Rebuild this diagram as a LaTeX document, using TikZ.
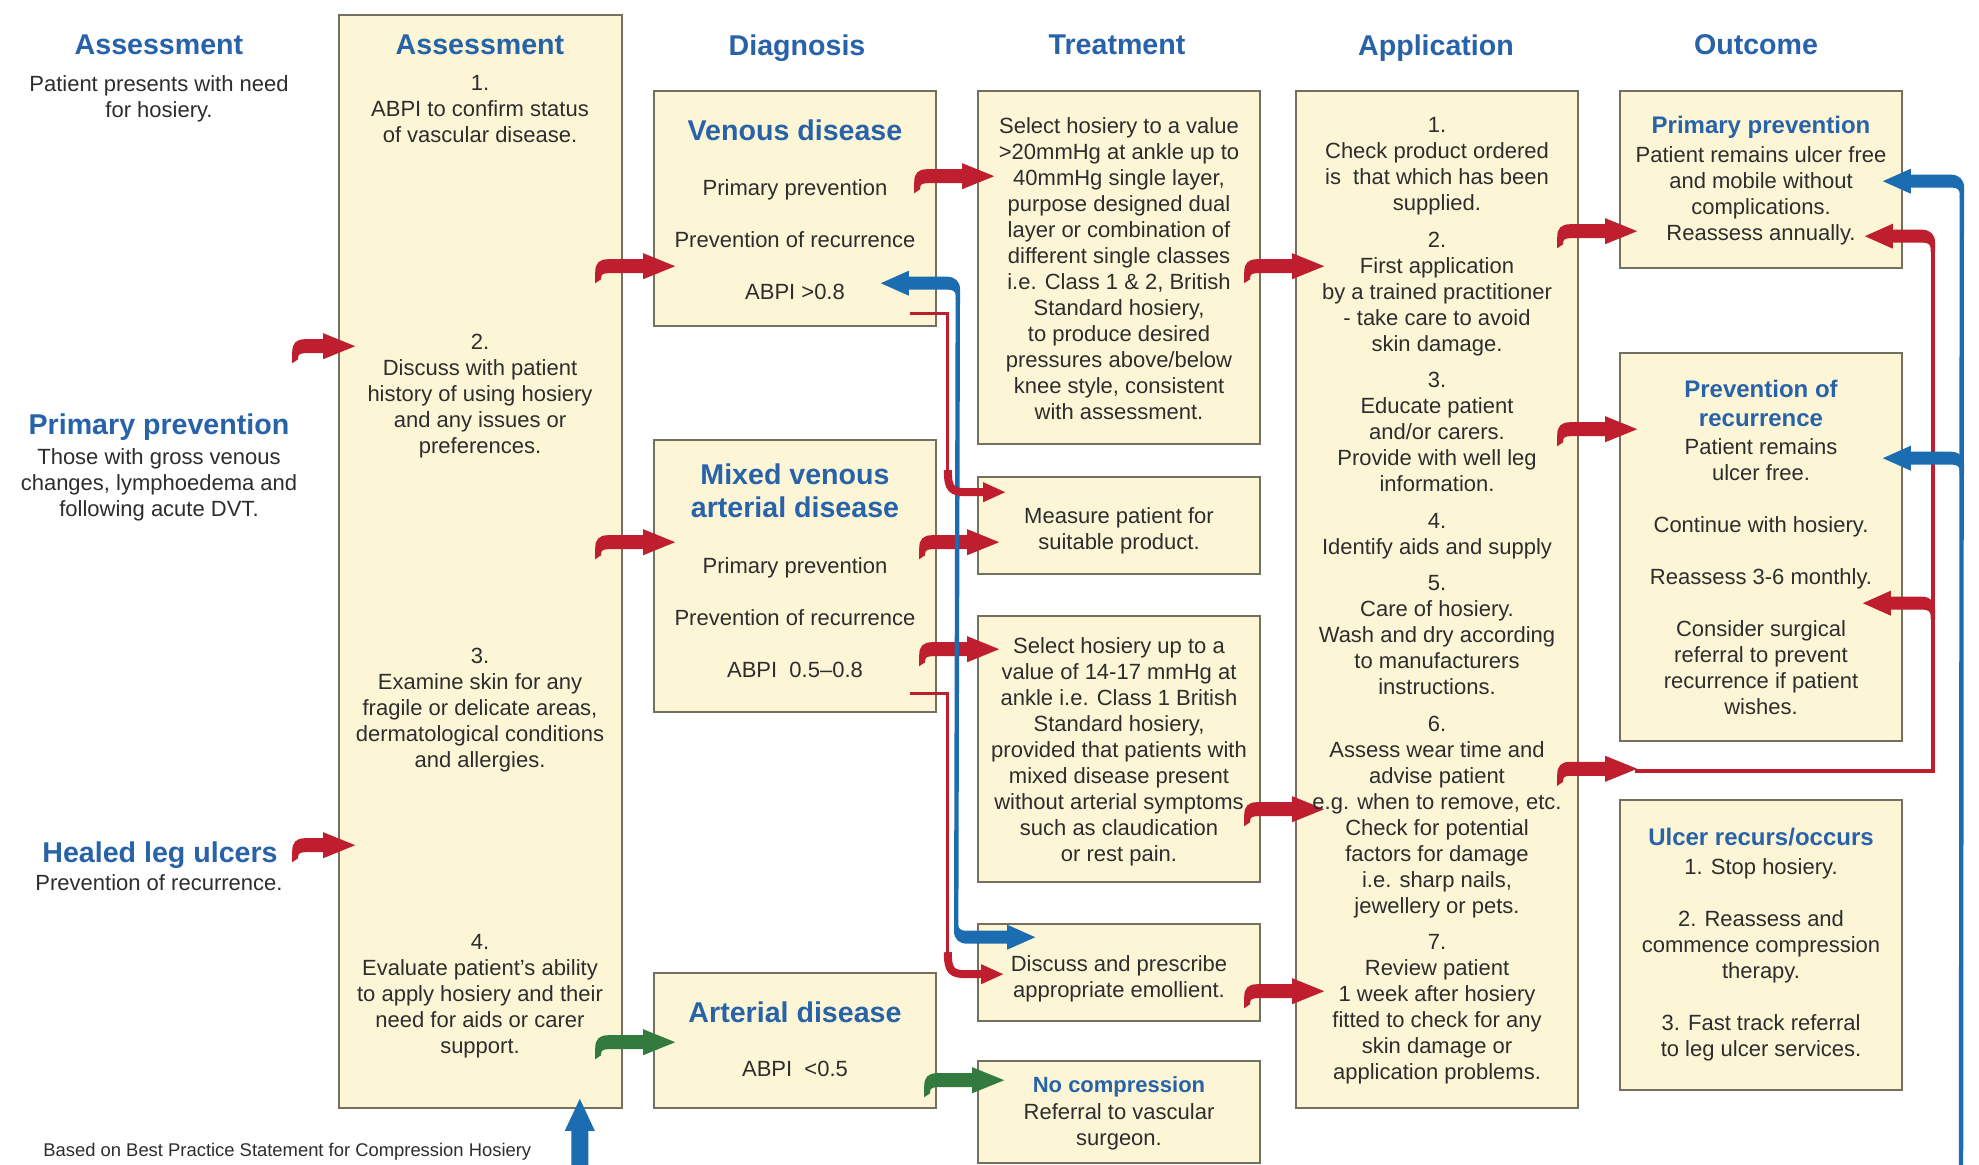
\documentclass[tikz,border=0pt]{standalone}
\usepackage{fontspec}
\setmainfont{Liberation Sans}
\usetikzlibrary{fit,calc}
\definecolor{cream}{RGB}{252,246,214}
\definecolor{boxline}{RGB}{115,112,95}
\definecolor{hblue}{RGB}{40,98,168}
\definecolor{txtgray}{RGB}{45,45,45}
\definecolor{arrred}{RGB}{190,30,45}
\definecolor{arrgreen}{RGB}{50,122,62}
\definecolor{arrblue}{RGB}{28,108,178}
\tikzset{
 box/.style={draw=boxline, fill=cream, line width=0.8pt, inner sep=0pt},
 body/.style={font=\fontsize{11}{13}\selectfont, text=txtgray, align=center, inner sep=0pt, anchor=north},
 head/.style={font=\bfseries\fontsize{14.3}{16.5}\selectfont, text=hblue, align=center, inner sep=0pt, anchor=north},
 subhead/.style={font=\bfseries\fontsize{12}{14.5}\selectfont, text=hblue, align=center, inner sep=0pt, anchor=north},
 hookR/.pic={\fill (0,0) -- (-32,-13) -- (-32,-7) -- ({-#1+13},-7) .. controls ({-#1+4},-7) and (-#1,-3) .. (-#1,6) -- (-#1,17) -- ({-#1+6},13) -- ({-#1+6},11) .. controls ({-#1+6},8) and ({-#1+9},7) .. ({-#1+13},7) -- (-32,7) -- (-32,13) -- cycle;},
 hookL/.pic={\fill (0,0) -- (28,-12.5) -- (28,-6.5) -- ({#1-11},-6.5) .. controls ({#1-3},-6.5) and ({#1+2.2},-2) .. ({#1+2.2},6) -- ({#1+2.2},16) -- ({#1-2.2},16) -- ({#1-2.2},12) .. controls ({#1-2.2},8.5) and ({#1-5},6.5) .. ({#1-9},6.5) -- (28,6.5) -- (28,12.5) -- cycle;},
 smallhead/.pic={\fill (0,0) -- (-22,-10) -- (-22,10) -- cycle;},
}
\begin{document}
\begin{tikzpicture}[x=0.5pt,y=-0.5pt]
\useasboundingbox (0,0) rectangle (1979,1165);
\fill[white] (0,0) rectangle (1979,1165);

% ---------- boxes ----------
\node[box, fit={(339,15) (622,1108)}] (assess) {};
\node[box, fit={(654,91) (936,326)}] (venous) {};
\node[box, fit={(654,440) (936,712)}] (mixed) {};
\node[box, fit={(654,973) (936,1108)}] (arterial) {};
\node[box, fit={(978,91) (1260,444)}] (treat) {};
\node[box, fit={(978,477) (1260,574)}] (measure) {};
\node[box, fit={(978,616) (1260,882)}] (select) {};
\node[box, fit={(978,924) (1260,1021)}] (discuss) {};
\node[box, fit={(978,1061) (1260,1163)}] (nocomp) {};
\node[box, fit={(1296,91) (1578,1108)}] (app) {};
\node[box, fit={(1620,91) (1902,268)}] (outPrim) {};
\node[box, fit={(1620,353) (1902,741)}] (outRec) {};
\node[box, fit={(1620,800) (1902,1090)}] (outUlc) {};

% ---------- hook arrows ----------
\pic[arrred] at ($(assess.north west)+(17,332)$) {hookR=63};
\pic[arrred] at ($(assess.north west)+(17,831)$) {hookR=63};
\pic[arrred] at ($(venous.north west)+(22,176)$) {hookR=80};
\pic[arrred] at ($(mixed.north west)+(22,103)$) {hookR=80};
\pic[arrgreen] at ($(arterial.north west)+(22,70)$) {hookR=80};
\pic[arrred] at ($(treat.north west)+(17,86)$) {hookR=80};
\pic[arrred] at ($(measure.north west)+(22,66)$) {hookR=80};
\pic[arrred] at ($(select.north west)+(22,34)$) {hookR=80};
\pic[arrgreen] at ($(nocomp.north west)+(27,20)$) {hookR=80};
\pic[arrred] at ($(app.north west)+(29,176)$) {hookR=80};
\pic[arrred] at ($(app.north west)+(29,719)$) {hookR=80};
\pic[arrred] at ($(app.north west)+(29,901)$) {hookR=80};
\pic[arrred] at ($(outPrim.north west)+(18,141)$) {hookR=80};
\pic[arrred] at ($(outRec.north west)+(18,77)$) {hookR=80};
\coordinate (a15) at ($(outRec.south west)+(18,27)$);
\pic[arrred] at (a15) {hookR=80};

% ---------- blue loop in diagnosis column ----------
\coordinate (bdTop) at ($(venous.north east)+(-56,193)$);
\coordinate (bdBot) at ($(discuss.north west)+(58,14)$);
\pic[arrblue] at (bdTop) {hookL=77};
\pic[arrblue, rotate=180] at (bdBot) {hookL=79};
\draw[arrblue, line width=2.2pt] ($(bdTop)+(77,15)$) -- ($(bdBot)+(-79,-15)$);

% ---------- red thin connectors in diagnosis column ----------
\coordinate (rd1s) at ($(venous.south east)+(-27,-13)$);
\coordinate (rd1t) at ($(measure.north west)+(28,16)$);
\coordinate (rd1c) at ($(rd1s)+(38,0)$);
\coordinate (rd1k) at (rd1c |- rd1t);
\draw[arrred, line width=1.6pt] (rd1s) -- (rd1c) -- ($(rd1k)+(0,-20)$);
\draw[arrred, line width=4pt] ($(rd1k)+(0,-22)$) .. controls ($(rd1k)+(0,-3)$) and ($(rd1k)+(4,0)$) .. ($(rd1k)+(19,0)$) -- ($(rd1t)+(-20,0)$);
\pic[arrred] at (rd1t) {smallhead};

\coordinate (rd2s) at ($(mixed.south east)+(-27,-19)$);
\coordinate (rd2t) at ($(discuss.north west)+(26,51)$);
\coordinate (rd2c) at ($(rd2s)+(38,0)$);
\coordinate (rd2k) at (rd2c |- rd2t);
\draw[arrred, line width=1.6pt] (rd2s) -- (rd2c) -- ($(rd2k)+(0,-20)$);
\draw[arrred, line width=4pt] ($(rd2k)+(0,-22)$) .. controls ($(rd2k)+(0,-3)$) and ($(rd2k)+(4,0)$) .. ($(rd2k)+(19,0)$) -- ($(rd2t)+(-20,0)$);
\pic[arrred] at (rd2t) {smallhead};

% ---------- outcome feedback ----------
\coordinate (rfA) at ($(outPrim.north east)+(-38,146)$);
\coordinate (rfB) at ($(outRec.north east)+(-40,251)$);
\pic[arrred] at (rfA) {hookL=68};
\pic[arrred] at (rfB) {hookL=70};
\draw[arrred, line width=1.8pt] ($(a15)+(-2,2)$) -| ($(rfA)+(68,15)$);

\coordinate (bfA) at ($(outPrim.north east)+(-20,91)$);
\coordinate (bfB) at ($(outRec.north east)+(-20,106)$);
\coordinate (bfEnd) at (1961,1172);
\pic[arrblue] at (bfA) {hookL=79};
\pic[arrblue] at (bfB) {hookL=79};
\draw[arrblue, line width=2.2pt] ($(bfA)+(79,15)$) -- (bfEnd);

% bottom blue up arrow
\coordinate (buT) at ($(assess.south east)+(-43,-10)$);
\fill[arrblue] (buT) -- ++(15,32) -- ++(-6.5,0) -- ++(0,42) -- ++(-17,0) -- ++(0,-42) -- ++(-6.5,0) -- cycle;

% ---------- left column ----------
\node[head] (hA0) at (159,34) {Assessment};
\node[body] (tA0) at (159,75) {Patient presents with need\\for hosiery.};
\node[head] (hPP) at (159,413) {Primary prevention};
\node[body] (tPP) at (159,448) {Those with gross venous\\changes, lymphoedema and\\following acute DVT.};
\node[head] (hHL) at (160,841) {Healed leg ulcers};
\node[body] (tHL) at (159,874) {Prevention of recurrence.};
\node[anchor=west, inner sep=0pt, font=\fontsize{9.2}{11}\selectfont, text=txtgray] (foot) at (43,1152) {Based on Best Practice Statement for Compression Hosiery};

% ---------- assessment box ----------
\node[head] (hA1) at (480,34) {Assessment};
\node[body] (tA1) at (480,75) {1.\\ABPI to confirm status\\of vascular disease.};
\node[body] (tA2) at (480,334) {2.\\Discuss with patient\\history of using hosiery\\and any issues or\\preferences.};
\node[body] (tA3) at (480,648) {3.\\Examine skin for any\\fragile or delicate areas,\\dermatological conditions\\and allergies.};
\node[body] (tA4) at (480,934) {4.\\Evaluate patient’s ability\\to apply hosiery and their\\need for aids or carer\\support.};

% ---------- diagnosis ----------
\node[head] (hD) at (797,34) {Diagnosis};
\node[head] (hVen) at (795,119) {Venous disease};
\node[body] (tVen) at (795,179) {Primary prevention\\[13pt]Prevention of recurrence\\[13pt]ABPI >0.8};
\node[head] (hMix) at (795,463) {Mixed venous\\arterial disease};
\node[body] (tMix) at (795,557) {Primary prevention\\[13pt]Prevention of recurrence\\[13pt]ABPI\ \ 0.5–0.8};
\node[head] (hArt) at (795,1001) {Arterial disease};
\node[body] (tArt) at (795,1061) {ABPI\ \ <0.5};

% ---------- treatment ----------
\node[head] (hT) at (1117,34) {Treatment};
\node[body] (tT1) at (1119,117) {Select hosiery to a value\\>20mmHg at ankle up to\\40mmHg single layer,\\purpose designed dual\\layer or combination of\\different single classes\\i.e. Class 1 \& 2, British\\Standard hosiery,\\to produce desired\\pressures above/below\\knee style, consistent\\with assessment.};
\node[body] (tT2) at (1119,507) {Measure patient for\\suitable product.};
\node[body] (tT3) at (1119,637) {Select hosiery up to a\\value of 14-17 mmHg at\\ankle i.e. Class 1 British\\Standard hosiery,\\provided that patients with\\mixed disease present\\without arterial symptoms\\such as claudication\\or rest pain.};
\node[body] (tT4) at (1119,955) {Discuss and prescribe\\appropriate emollient.};
\node[subhead, font=\bfseries\fontsize{11}{13}\selectfont] (hNC) at (1119,1076) {No compression};
\node[body] (tT5) at (1119,1103) {Referral to vascular\\surgeon.};

% ---------- application ----------
\node[head] (hAp) at (1436,34) {Application};
\node[body] (tAp) at (1437,117) {1.\\Check product ordered\\is\ \ that which has been\\supplied.\\[5.25pt]
2.\\First application\\by a trained practitioner\\- take care to avoid\\skin damage.\\[5.25pt]
3.\\Educate patient\\and/or carers.\\Provide with well leg\\information.\\[5.25pt]
4.\\Identify aids and supply\\[5.25pt]
5.\\Care of hosiery.\\Wash and dry according\\to manufacturers\\instructions.\\[5.25pt]
6.\\Assess wear time and\\advise patient\\e.g. when to remove, etc.\\Check for potential\\factors for damage\\i.e. sharp nails,\\jewellery or pets.\\[5.25pt]
7.\\Review patient\\1 week after hosiery\\fitted to check for any\\skin damage or\\application problems.};

% ---------- outcome ----------
\node[head] (hO) at (1756,34) {Outcome};
\node[subhead] (hO1) at (1761,116) {Primary prevention};
\node[body] (tO1) at (1761,146) {Patient remains ulcer free\\and mobile without\\complications.\\Reassess annually.};
\node[subhead] (hO2) at (1761,380) {Prevention of\\recurrence};
\node[body] (tO2) at (1761,438) {Patient remains\\ulcer free.\\[13pt]Continue with hosiery.\\[13pt]Reassess 3-6 monthly.\\[13pt]Consider surgical\\referral to prevent\\recurrence if patient\\wishes.};
\node[subhead] (hO3) at (1761,828) {Ulcer recurs/occurs};
\node[body] (tO3) at (1761,858) {1. Stop hosiery.\\[13pt]2. Reassess and\\commence compression\\therapy.\\[13pt]3. Fast track referral\\to leg ulcer services.};
\end{tikzpicture}
\end{document}
